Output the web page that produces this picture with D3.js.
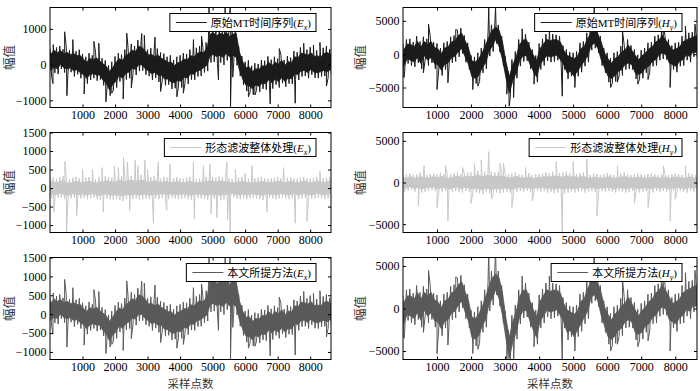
<!DOCTYPE html>
<html>
<head>
<meta charset="utf-8">
<script src="https://cdn.jsdelivr.net/npm/d3@7"></script>
<style>
  body { margin: 0; background: #fff; }
  svg { display: block; }
  .axis text { font-family: "Liberation Serif", "Times New Roman", serif; font-size: 12px; fill: #000; }
  .axis line { stroke: #000; }
  .legend-text { font-family: "Liberation Serif", "Noto Sans CJK SC", serif; font-size: 11px; fill: #000; }
  .axis-title { font-family: "Noto Sans CJK SC", sans-serif; font-size: 12.5px; fill: #333; }
  .x-title { font-size: 11.5px; }
</style>
</head>
<body>
<svg id="chart" width="700" height="391"></svg>
<script>
// envelope of each trace, read every 100 samples: upper value, then lower value
const sampleStep = 100;
const xDomain = [0, 8640];
const xTicks = [1000, 2000, 3000, 4000, 5000, 6000, 7000, 8000];

// E_x, raw MT series (row 3 "本文所提方法" looks the same at this size)
const exRawHigh = [
  450, 560, 480, 520, 430, 500, 400, 470, 380, 420,
  300, 220, 320, 260, 350, 230, 180, 120, -20, 80,
  230, 320, 280, 420, 480, 580, 520, 690, 640, 560,
  420, 460, 380, 450, 340, 310, 220, 260, 130, 220,
  260, 320, 300, 420, 380, 470, 520, 480, 620, 1050,
  1100, 1000, 1080, 1050, 1100, 980, 1050, 1100, 520, 240,
  80, 120, -30, 40, 20, 130, 110, 230, 140, 220,
  170, 280, 130, 240, 200, 380, 350, 480, 460, 420,
  490, 380, 400, 350, 470, 520, 430];
const exRawLow = [
  -320, -230, -260, -120, -220, -280, -210, -330, -270, -380,
  -420, -530, -430, -380, -450, -420, -580, -680, -870, -720,
  -640, -470, -540, -420, -380, -280, -290, -180, -170, -280,
  -320, -430, -370, -480, -460, -580, -560, -680, -660, -620,
  -640, -520, -540, -420, -430, -330, -320, -220, -180, 60,
  80, 30, 60, -10, 120, 20, 60, -20, -320, -560,
  -740, -780, -840, -720, -760, -680, -700, -580, -670, -560,
  -640, -520, -620, -530, -540, -420, -430, -330, -320, -380,
  -280, -370, -380, -330, -320, -380, -280];
const exRawSpikes = [
  [90, -530], [450, 920], [520, -870], [700, 700], [1050, -820], [1350, 650], [1500, 600],
  [1720, -1040], [1900, -800], [2250, -960], [2360, 880], [2500, -650], [2820, 870], [2900, 820],
  [3230, 770], [3400, -750], [3900, -900], [4100, -800], [4410, 700], [4660, 800],
  [4890, 1600], [5180, -430], [5385, 1600], [5540, 1600], [5550, -1200], [5620, -350],
  [6100, -900], [6300, -850], [6770, -1100], [7050, 450], [7540, -1080], [7800, 600],
  [8100, 550], [8300, 620], [8500, -600]];

// E_x, morphological filter output
const exFiltHigh = [
  300, 280, 250, 300, 320, 260, 240, 280, 300, 260,
  250, 280, 300, 260, 240, 300, 280, 320, 300, 280,
  300, 350, 320, 300, 350, 330, 300, 320, 350, 300,
  280, 300, 320, 280, 260, 300, 280, 250, 270, 300,
  260, 250, 280, 300, 260, 240, 260, 280, 300, 320,
  300, 280, 320, 300, 280, 250, 240, 260, 280, 300,
  260, 250, 240, 260, 280, 300, 270, 250, 260, 280,
  300, 260, 250, 280, 300, 260, 250, 280, 300, 260,
  250, 270, 300, 280, 260, 280, 300];
const exFiltLow = [
  -280, -300, -260, -250, -300, -320, -280, -260, -300, -280,
  -260, -300, -280, -250, -300, -320, -300, -280, -300, -320,
  -300, -330, -350, -300, -320, -300, -280, -320, -300, -280,
  -300, -320, -280, -300, -260, -280, -300, -260, -280, -300,
  -280, -260, -300, -320, -280, -260, -280, -300, -320, -300,
  -280, -300, -320, -300, -280, -260, -250, -280, -300, -280,
  -300, -280, -260, -280, -300, -320, -280, -260, -280, -300,
  -280, -260, -280, -300, -280, -260, -300, -280, -260, -280,
  -300, -280, -260, -280, -300, -280, -260];
const exFiltSpikes = [
  [120, -650], [460, 720], [510, -1200], [820, -750], [1000, 500], [1310, 500], [1600, 550],
  [1640, -650], [1980, 600], [2100, 550], [2260, 820], [2380, 700], [2450, -600], [2620, 750],
  [2700, 600], [2920, 750], [3000, 500], [3180, -950], [3330, 700], [3590, -600], [3690, 650],
  [4410, 700], [4440, -840], [4720, 600], [4920, 650], [4950, -700], [5130, -800], [5440, 700],
  [5460, -850], [5540, -1200], [5700, 500], [6000, 400], [6210, 600], [6670, -650], [7180, 550],
  [7540, -950], [7900, -900], [8300, 450]];

// H_y, raw MT series (row 3 looks the same at this size)
const hyRawHigh = [
  1500, 2200, 2300, 1800, 2700, 1900, 2600, 2300, 2700, 1800,
  1600, 900, 1700, 1900, 2600, 2800, 3600, 3900, 2800, 1700,
  -200, -400, 200, 900, 2200, 3300, 4400, 4700, 4400, 2700,
  -300, -2600, -800, 400, 2200, 2900, 3000, 1800, 700, -200,
  1600, 2300, 3000, 2800, 3000, 2900, 2700, 1300, 700, 300,
  200, 400, 1700, 1900, 3200, 3800, 4600, 3800, 2700, 900,
  200, -600, 200, 400, 1200, 1400, 2200, 1300, 700, -100,
  600, 900, 1700, 1800, 2700, 2900, 3700, 2800, 2200, 1300,
  1700, 1800, 2700, 2900, 3200, 3300, 3600];
const hyRawLow = [
  -2600, -1400, -1700, -1900, -1300, -2200, -900, -1700, -1300, -2200,
  -2400, -3200, -2300, -2100, -1300, -1100, -400, 100, -1200, -2300,
  -4200, -4400, -4100, -2800, -2200, -300, 400, 1600, 300, -1700,
  -4300, -6600, -4800, -3600, -1800, -1100, -1000, -2200, -3300, -4200,
  -2300, -1700, -1000, -1200, -1100, -900, -1700, -2300, -3700, -3300,
  -4200, -3300, -2700, -1800, -1200, 600, 900, 200, -1700, -2800,
  -4200, -4400, -4100, -3300, -3200, -2300, -2200, -2300, -3700, -3800,
  -3600, -2800, -2700, -1800, -1700, -900, -700, -800, -2200, -2300,
  -2700, -1800, -1700, -900, -1200, -400, -600];
const hyRawSpikes = [
  [30, -3500], [600, -2800], [750, 4500], [1000, -5300], [1320, -4300], [1550, 3700], [2050, -5300],
  [2200, -4800], [2520, 7000], [2720, 7000], [3050, -6000], [3120, -7800], [3250, -6500], [3500, 3800],
  [3850, -4500], [4300, 3800], [4680, -6300], [5050, -5000], [5550, 5000], [5620, 7000], [6100, -5000],
  [6300, -4200], [6450, 3500], [6900, -4500], [7200, -3800], [7650, 4200], [7850, -5000], [8300, 4200],
  [8580, 4500]];

// H_y, morphological filter output
const hyFiltHigh = [
  900, 1000, 1100, 900, 1000, 1200, 1000, 900, 1000, 1100,
  1000, 1200, 1000, 900, 1000, 1100, 1200, 1000, 1100, 1200,
  1200, 1300, 1400, 1200, 1300, 1400, 1300, 1200, 1300, 1200,
  1100, 1000, 1100, 1200, 1000, 900, 1000, 1100, 900, 1000,
  1000, 1100, 1200, 1100, 1300, 1200, 1100, 1200, 1300, 1100,
  1200, 1000, 1100, 1200, 1000, 900, 1100, 1000, 900, 1000,
  1100, 1000, 900, 1000, 1100, 1200, 1000, 900, 1000, 1100,
  1000, 900, 1000, 1100, 1000, 900, 1000, 1100, 900, 1000,
  1100, 1000, 900, 1000, 1100, 1000, 900];
const hyFiltLow = [
  -1100, -1000, -900, -1100, -1000, -1200, -1100, -1000, -900, -1000,
  -1200, -1100, -1000, -1200, -1100, -1000, -1100, -1200, -1000, -1100,
  -1300, -1200, -1300, -1400, -1200, -1300, -1400, -1200, -1300, -1200,
  -1100, -1200, -1300, -1100, -1000, -1100, -1000, -1100, -1200, -1000,
  -1100, -1000, -1200, -1100, -1300, -1200, -1100, -1300, -1200, -1100,
  -1200, -1100, -1000, -1200, -1100, -1000, -1100, -1200, -1000, -1100,
  -1000, -1100, -1200, -1000, -1100, -1200, -1100, -1000, -1100, -1200,
  -1100, -1000, -1100, -1200, -1000, -1100, -1000, -1100, -1200, -1000,
  -1100, -1000, -1100, -1200, -1000, -1100, -1000];
const hyFiltSpikes = [
  [450, -2800], [620, 2000], [1000, -3000], [1250, 2000], [1320, -4600], [1750, 1800], [2000, -2500],
  [2100, 2300], [2300, 2700], [2520, 3700], [2600, -2000], [2850, 2300], [2950, 2300], [3200, -3000],
  [3600, 1800], [3800, -2200], [4500, 2500], [4680, -6000], [5000, 2500], [5400, 2800], [5700, -4000],
  [6300, 2000], [6800, -2500], [7200, -3000], [7650, 2000], [7850, -4600], [8000, -2000], [8300, 2000]];

const svg = d3.select('#chart');

class SignalPanel {
  constructor(_config, _data) {
    this.config = {
      id: _config.id,
      left: _config.left,
      right: _config.right,
      top: _config.top,
      bottom: _config.bottom,
      yDomain: _config.yDomain,
      yTicks: _config.yTicks,
      color: _config.color,
      label: _config.label,
      varName: _config.varName,
      sub: _config.sub,
      titleX: _config.titleX,
      showXTitle: _config.showXTitle || false
    };
    this.data = _data;
    this.initVis();
  }

  initVis() {
    let vis = this;
    const c = vis.config;

    vis.width = c.right - c.left;
    vis.height = c.bottom - c.top;

    vis.xScale = d3.scaleLinear().domain(xDomain).range([0, vis.width]);
    vis.yScale = d3.scaleLinear().domain(c.yDomain).range([vis.height, 0]);

    vis.chart = svg.append('g')
      .attr('transform', `translate(${c.left},${c.top})`);

    vis.chart.append('clipPath')
      .attr('id', c.id)
      .append('rect')
      .attr('width', vis.width)
      .attr('height', vis.height);

    vis.lineG = vis.chart.append('g').attr('clip-path', `url(#${c.id})`);

    vis.updateVis();
  }

  updateVis() {
    let vis = this;
    // zigzag between the upper and lower value of each step, spikes inserted in order
    const pts = [];
    vis.data.high.forEach((v, i) => {
      pts.push([i * sampleStep, v]);
      pts.push([i * sampleStep + sampleStep / 2, vis.data.low[i]]);
    });
    vis.data.spikes.forEach(s => pts.push(s));
    pts.sort((a, b) => a[0] - b[0]);
    vis.points = pts;

    // dense core of the band: inner part of each step's range
    vis.core = vis.data.high.map((v, i) => {
      const lo = vis.data.low[i];
      const pad = (v - lo) * 0.2;
      return [i * sampleStep + sampleStep / 4, v - pad, lo + pad];
    });
    vis.renderVis();
  }

  renderVis() {
    let vis = this;
    const c = vis.config;

    const area = d3.area()
      .x(d => vis.xScale(d[0]))
      .y0(d => vis.yScale(d[2]))
      .y1(d => vis.yScale(d[1]));

    const line = d3.line()
      .x(d => vis.xScale(d[0]))
      .y(d => vis.yScale(d[1]));

    vis.lineG.append('path')
      .datum(vis.core)
      .attr('fill', c.color)
      .attr('stroke', c.color)
      .attr('stroke-width', 0.8)
      .attr('d', area);

    vis.lineG.append('path')
      .datum(vis.points)
      .attr('fill', 'none')
      .attr('stroke', c.color)
      .attr('stroke-width', 1)
      .attr('d', line);

    // axes, ticks inward on all four sides
    const fmt = d3.format('d');
    const xb = vis.chart.append('g').attr('class', 'axis')
      .attr('transform', `translate(0,${vis.height})`)
      .call(d3.axisBottom(vis.xScale).tickValues(xTicks).tickSize(-3).tickPadding(3).tickFormat(fmt));
    const xt = vis.chart.append('g').attr('class', 'axis')
      .call(d3.axisTop(vis.xScale).tickValues(xTicks).tickSize(-3).tickFormat(''));
    const yl = vis.chart.append('g').attr('class', 'axis')
      .call(d3.axisLeft(vis.yScale).tickValues(c.yTicks).tickSize(-3).tickPadding(3.5).tickFormat(fmt));
    const yr = vis.chart.append('g').attr('class', 'axis')
      .attr('transform', `translate(${vis.width},0)`)
      .call(d3.axisRight(vis.yScale).tickValues(c.yTicks).tickSize(-3).tickFormat(''));
    [xb, xt, yl, yr].forEach(a => a.select('.domain').remove());

    vis.chart.append('rect')
      .attr('width', vis.width)
      .attr('height', vis.height)
      .attr('fill', 'none')
      .attr('stroke', '#000')
      .attr('stroke-width', 1);

    // legend box, top right
    const lg = vis.chart.append('g');
    const text = lg.append('text').attr('class', 'legend-text');
    text.append('tspan').text(c.label + '(');
    text.append('tspan').attr('font-style', 'italic').text(c.varName);
    text.append('tspan').attr('font-style', 'italic').attr('font-size', '8px').attr('dy', 3).text(c.sub);
    text.append('tspan').attr('dy', -3).text(')');
    const tw = text.node().getComputedTextLength();
    const boxW = 6 + 31 + 4 + tw + 5;
    const boxH = 18;
    const bx = vis.width - 15 - boxW;
    const by = 6;
    lg.insert('rect', 'text')
      .attr('x', bx).attr('y', by)
      .attr('width', boxW).attr('height', boxH)
      .attr('fill', '#fff').attr('stroke', '#000').attr('stroke-width', 1);
    lg.append('line')
      .attr('x1', bx + 6).attr('x2', bx + 37)
      .attr('y1', by + boxH / 2).attr('y2', by + boxH / 2)
      .attr('stroke', c.color).attr('stroke-width', 1);
    text.attr('x', bx + 41).attr('y', by + boxH / 2 + 4);

    // axis titles
    vis.chart.append('text')
      .attr('class', 'axis-title')
      .attr('text-anchor', 'middle')
      .attr('transform', `translate(${c.titleX - c.left},${vis.height / 2}) rotate(-90)`)
      .attr('dy', '0.35em')
      .text('幅值');

    if (c.showXTitle) {
      vis.chart.append('text')
        .attr('class', 'axis-title x-title')
        .attr('text-anchor', 'middle')
        .attr('x', vis.width / 2)
        .attr('y', 387.5 - c.top)
        .text('采样点数');
    }
  }
}

const colLeft = [50, 331];
const colRight = [403, 697];
const rows = [[7.5, 107.5], [132.5, 232.5], [257.5, 359.5]];
const rawColor = '#1c1c1c';
const filtColor = '#c8c8c8';
const methodColor = '#5a5a5a';

new SignalPanel({ id: 'c1', left: colLeft[0], right: colLeft[1], top: rows[0][0], bottom: rows[0][1],
  yDomain: [-1200, 1600], yTicks: [-1000, 0, 1000], color: rawColor, titleX: 10,
  label: '原始MT时间序列', varName: 'E', sub: 'x' },
  { high: exRawHigh, low: exRawLow, spikes: exRawSpikes });

new SignalPanel({ id: 'c2', left: colRight[0], right: colRight[1], top: rows[0][0], bottom: rows[0][1],
  yDomain: [-8000, 7000], yTicks: [-5000, 0, 5000], color: rawColor, titleX: 361,
  label: '原始MT时间序列', varName: 'H', sub: 'y' },
  { high: hyRawHigh, low: hyRawLow, spikes: hyRawSpikes });

new SignalPanel({ id: 'c3', left: colLeft[0], right: colLeft[1], top: rows[1][0], bottom: rows[1][1],
  yDomain: [-1200, 1500], yTicks: [-1000, -500, 0, 500, 1000, 1500], color: filtColor, titleX: 10,
  label: '形态滤波整体处理', varName: 'E', sub: 'x' },
  { high: exFiltHigh, low: exFiltLow, spikes: exFiltSpikes });

new SignalPanel({ id: 'c4', left: colRight[0], right: colRight[1], top: rows[1][0], bottom: rows[1][1],
  yDomain: [-6000, 6000], yTicks: [-5000, 0, 5000], color: filtColor, titleX: 361,
  label: '形态滤波整体处理', varName: 'H', sub: 'y' },
  { high: hyFiltHigh, low: hyFiltLow, spikes: hyFiltSpikes });

new SignalPanel({ id: 'c5', left: colLeft[0], right: colLeft[1], top: rows[2][0], bottom: rows[2][1],
  yDomain: [-1200, 1500], yTicks: [-1000, -500, 0, 500, 1000, 1500], color: methodColor, titleX: 10,
  label: '本文所提方法', varName: 'E', sub: 'x', showXTitle: true },
  { high: exRawHigh, low: exRawLow, spikes: exRawSpikes });

new SignalPanel({ id: 'c6', left: colRight[0], right: colRight[1], top: rows[2][0], bottom: rows[2][1],
  yDomain: [-6000, 6000], yTicks: [-5000, 0, 5000], color: methodColor, titleX: 361,
  label: '本文所提方法', varName: 'H', sub: 'y', showXTitle: true },
  { high: hyRawHigh, low: hyRawLow, spikes: hyRawSpikes });
</script>
</body>
</html>
